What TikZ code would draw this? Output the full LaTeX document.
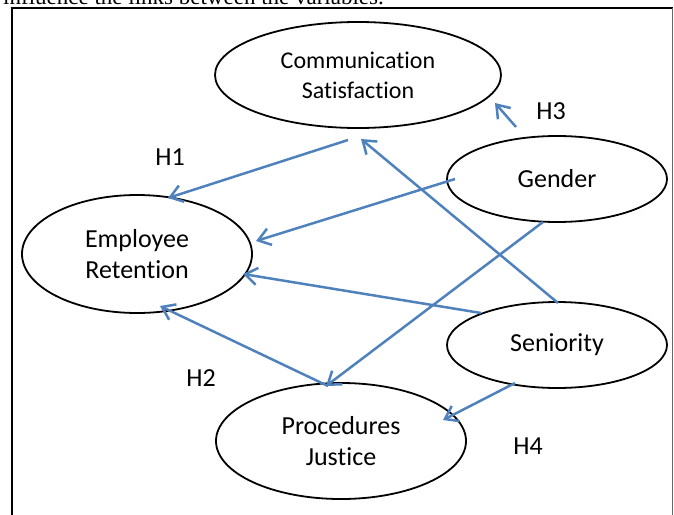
\documentclass[tikz,border=0pt]{standalone}
\usepackage{fontspec}
\setmainfont{Carlito}[Ligatures=NoCommon]
\newfontfamily\bodyserif{Liberation Serif}
\usetikzlibrary{arrows.meta,shapes.geometric}
\definecolor{linkblue}{RGB}{79,129,189}
\begin{document}
\begin{tikzpicture}[x=1pt,y=-1pt,
  var/.style={draw=black, line width=1.8pt, ellipse, inner sep=0pt, align=center,
              font=\fontsize{26}{31}\selectfont},
  link/.style={draw=linkblue, line width=2.5pt,
               -{Straight Barb[length=12pt,width=17pt]}},
  hyp/.style={font=\fontsize{26}{30}\selectfont, inner sep=0pt}]
\useasboundingbox (0,0) rectangle (674,514);

% last line of the preceding paragraph
\node[anchor=base west, inner sep=0pt, font=\bodyserif\fontsize{23}{26}\selectfont]
  (para) at (3,4.5) {influence the links between the variables.};

% frame
\draw[line width=2.6pt, black] (10.5,8) -- (673,8);
\draw[line width=2pt, black] (11.5,8) -- (11.5,520);
\draw[line width=1.4pt, black!60] (672.5,8) -- (672.5,520);

% variables
\node[var, minimum width=286pt, minimum height=106pt,
      font=\fontsize{24}{30}\selectfont] (comm) at (358,75)
  {Communication\\Satisfaction};
\node[var, minimum width=230pt, minimum height=118pt] (emp) at (137,254)
  {Employee\\Retention};
\node[var, minimum width=220pt, minimum height=86pt] (gen) at (557,179) {Gender};
\node[var, minimum width=220pt, minimum height=86pt] (sen) at (557,345) {Seniority};
\node[var, minimum width=250pt, minimum height=116pt] (proc) at (341,441)
  {Procedures\\Justice};

% hypothesised links
\draw[link] ([shift={(-10,65)}]comm.center) -- ([shift={(31,-56)}]emp.center);
\draw[link] ([shift={(-102,0)}]gen.center) -- ([shift={(119,-13)}]emp.center);
\draw[link] ([shift={(-76,-32)}]sen.center) -- ([shift={(106,20)}]emp.center);
\draw[link] ([shift={(1,-42)}]sen.center) -- ([shift={(3,64)}]comm.center);
\draw[link] ([shift={(-14,43)}]gen.center) -- ([shift={(-15,-55)}]proc.center);
\draw[link] ([shift={(-13,-55)}]proc.center) -- ([shift={(23,52)}]emp.center);
\draw[link] ([shift={(-41,-52)}]gen.center) -- ([shift={(137,28)}]comm.center);
\draw[link] ([shift={(-42,38)}]sen.center) -- ([shift={(102,-21)}]proc.center);

% hypothesis labels
\node[hyp] (h1) at (170,157) {H1};
\node[hyp] (h2) at (201,378) {H2};
\node[hyp] (h3) at (551,111) {H3};
\node[hyp] (h4) at (528,446) {H4};
\end{tikzpicture}
\end{document}
